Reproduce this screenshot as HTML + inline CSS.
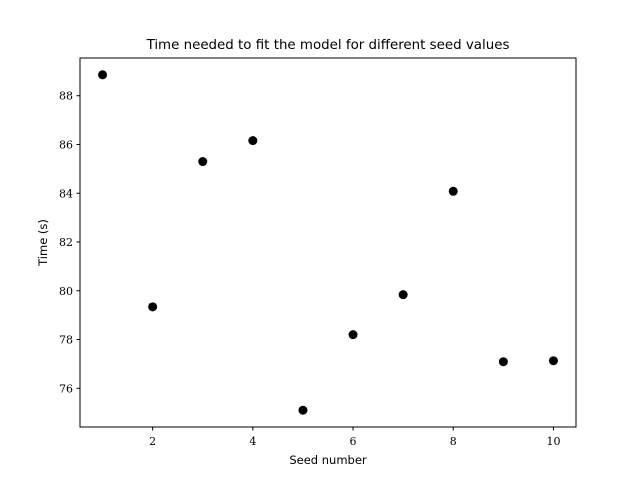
<!DOCTYPE html>
<html><head><meta charset="utf-8"><style>
html,body{margin:0;padding:0;background:#fff;}
svg text{font-family:"DejaVu Serif","Liberation Serif",serif;fill:#000;}
.lbl{font-family:"DejaVu Sans","Liberation Sans",sans-serif;}
</style></head><body>
<svg id="chart" width="640" height="480" xmlns="http://www.w3.org/2000/svg">
<rect width="640" height="480" fill="#fff"/>
<g id="ticks"></g>
<g id="points"></g>
<rect x="80" y="58" width="496" height="369" fill="none" stroke="#000" stroke-width="1"/>
<text class="lbl" x="328" y="49" font-size="13.4" text-anchor="middle">Time needed to fit the model for different seed values</text>
<text class="lbl" x="328" y="464" font-size="11.5" text-anchor="middle">Seed number</text>
<text class="lbl" x="0" y="0" font-size="11.5" text-anchor="middle" transform="translate(47,242.5) rotate(-90)">Time (s)</text>
</svg>
<script>
const seeds=[1,2,3,4,5,6,7,8,9,10];
const times=[88.86,79.34,85.30,86.16,75.10,78.20,79.84,84.08,77.09,77.13];
const xTicks=[2,4,6,8,10];
const yTicks=[76,78,80,82,84,86,88];
const L=80,R=576,T=58,B=427;
const xmin=Math.min(...seeds),xmax=Math.max(...seeds),ymin=Math.min(...times),ymax=Math.max(...times);
const x0=xmin-(xmax-xmin)*0.05,x1=xmax+(xmax-xmin)*0.05;
const y0=ymin-(ymax-ymin)*0.05,y1=ymax+(ymax-ymin)*0.05;
const sx=v=>L+(v-x0)/(x1-x0)*(R-L);
const sy=v=>B-(v-y0)/(y1-y0)*(B-T);
const NS="http://www.w3.org/2000/svg";
const tg=document.getElementById('ticks'),pg=document.getElementById('points');
function mk(tag,attrs,parent){const e=document.createElementNS(NS,tag);for(const k in attrs)e.setAttribute(k,attrs[k]);parent.appendChild(e);return e;}
xTicks.forEach(v=>{
 const x=sx(v);
 const l=mk('line',{x1:x,x2:x,y1:B,y2:B+3.5,stroke:'#000'},tg);
 
 
 const t=mk('text',{x:x,y:B+18,'font-size':11,'text-anchor':'middle'},tg);
 t.textContent=v;
 
 
});
yTicks.forEach(v=>{
 const y=sy(v);
 const l=mk('line',{x1:L-3.5,x2:L,y1:y,y2:y,stroke:'#000'},tg);
 
 
 const t=mk('text',{x:L-7,y:y+4,'font-size':11,'text-anchor':'end'},tg);
 t.textContent=v;
 
 
});
seeds.forEach((s,i)=>{
 const c=mk('circle',{cx:sx(s),cy:sy(times[i]),r:4.5,fill:'#000'},pg);
 
 
});
</script>
</body></html>
